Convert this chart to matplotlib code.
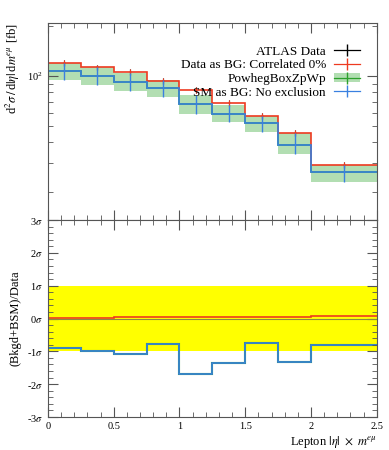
import numpy as np
import matplotlib
matplotlib.use('Agg')
import matplotlib.pyplot as plt
from matplotlib.lines import Line2D
from matplotlib.patches import Patch
from matplotlib.ticker import MultipleLocator, LogLocator, NullFormatter, FuncFormatter

plt.rcParams['font.family'] = ['Liberation Serif', 'DejaVu Serif']
plt.rcParams['mathtext.fontset'] = 'stix'

# Bin edges in |eta| x m
edges = [0, 0.25, 0.5, 0.75, 1.0, 1.25, 1.5, 1.75, 2.0, 2.5]

# ATLAS data (hidden below red) and errors
data = [121, 113, 105.7, 93.7, 82.3, 69.3, 57.3, 45.4, 29.1]
data_err = [5, 4.5, 4.5, 4, 3.5, 3, 2.5, 2, 1.3]

# Data as BG: Correlated 0%
red = [121, 113, 105.7, 93.7, 82.3, 69.3, 57.3, 45.4, 29.1]

# SM as BG / PowhegBoxZpWp central and band
blue = [108, 101, 92.4, 85, 67.7, 59.5, 52.5, 38.6, 26.3]
band_hi = [121, 113, 104, 95, 76.5, 67, 57.3, 45.4, 29.1]
band_lo = [94.5, 88, 81, 74.5, 59.5, 53, 46, 33.7, 22.8]

# Ratio panel (sigma)
red_sig = [0.02, 0.02, 0.05, 0.05, 0.05, 0.05, 0.06, 0.06, 0.07]
blue_sig = [-0.91, -0.99, -1.09, -0.78, -1.68, -1.35, -0.75, -1.32, -0.81]

c_red = '#ee3a20'
c_blue = '#3a80e0'
c_green = '#2ca02c'
c_band = '#b2deb2'

edges = np.array(edges)
centers = 0.5 * (edges[:-1] + edges[1:])

fig = plt.figure(figsize=(3.89, 4.5), dpi=100)
ax = fig.add_axes([0.1234, 0.511, 0.845, 0.438])
ax2 = fig.add_axes([0.1234, 0.0733, 0.845, 0.4377])

# Top panel
ax.stairs(band_hi, edges, baseline=band_lo, fill=True, color=c_band, lw=0)
ax.stairs(blue, edges, baseline=None, color=c_green, lw=1.2)
ax.errorbar(centers, data, yerr=data_err, fmt='none', ecolor='black', elinewidth=0.8)
ax.stairs(red, edges, baseline=None, color=c_red, lw=1.2)
ax.errorbar(centers, red, yerr=data_err, fmt='none', ecolor=c_red, elinewidth=0.8)
ax.stairs(blue, edges, baseline=None, color=c_blue, lw=1.2)
ax.errorbar(centers, blue, yerr=[np.array(blue) - np.array(band_lo), np.array(band_hi) - np.array(blue)],
            fmt='none', ecolor=c_blue, elinewidth=1.0)

ax.set_yscale('log')
ax.set_ylim(13.5, 210)
ax.set_xlim(0, 2.5)
ax.yaxis.set_major_locator(LogLocator(base=10, numticks=10))
ax.yaxis.set_minor_locator(LogLocator(base=10, subs=np.arange(2, 10), numticks=20))
ax.yaxis.set_minor_formatter(NullFormatter())
ax.xaxis.set_major_locator(MultipleLocator(0.5))
ax.xaxis.set_minor_locator(MultipleLocator(0.1))
ax.tick_params(axis='x', labelbottom=False)
ax.set_ylabel(r'd$^2\sigma\,/\,$d$|\eta|\,$d$m^{e\mu}$ [fb]', loc='top', fontsize=9)

handles = [
    Line2D([], [], color='black', marker='|', markersize=9, lw=0.9),
    Line2D([], [], color=c_red, marker='|', markersize=9, lw=0.9),
    (Patch(color=c_band, lw=0), Line2D([], [], color=c_green, marker='|', markersize=9, lw=0.9)),
    Line2D([], [], color=c_blue, marker='|', markersize=9, lw=0.9),
]
labels = ['ATLAS Data', 'Data as BG: Correlated 0%', 'PowhegBoxZpWp', 'SM as BG: No exclusion']
ax.legend(handles, labels, loc='upper right', bbox_to_anchor=(0.97, 0.92), frameon=False,
          markerfirst=False, fontsize=9.5, handlelength=2.0, handletextpad=0.6,
          labelspacing=0.12, borderpad=0)

# Bottom panel
ax2.axhspan(-1, 1, color='#ffff00', lw=0)
ax2.axhline(0, color='#8a8a40', lw=0.8)
ax2.stairs(red_sig, edges, baseline=None, color=c_red, lw=1.2)
ax2.stairs(blue_sig, edges, baseline=None, color=c_green, lw=1.5)
ax2.stairs(blue_sig, edges, baseline=None, color=c_blue, lw=1.2)
ax2.set_xlim(0, 2.5)
ax2.set_ylim(-3, 3)
ax2.yaxis.set_major_locator(MultipleLocator(1))
ax2.yaxis.set_minor_locator(MultipleLocator(0.2))
ax2.yaxis.set_major_formatter(FuncFormatter(lambda v, p: '%d$\\sigma$' % round(v)))
ax2.xaxis.set_major_locator(MultipleLocator(0.5))
ax2.xaxis.set_minor_locator(MultipleLocator(0.1))
ax2.xaxis.set_major_formatter(FuncFormatter(lambda v, p: ('%g' % v)))
ax2.set_ylabel('(Bkgd+BSM)/Data', fontsize=9)
ax2.set_xlabel(r'Lepton $|\eta|\ \times\ m^{e\mu}$', loc='right', fontsize=9, labelpad=2)

for a in (ax, ax2):
    for s in a.spines.values():
        s.set_color('#555555')
        s.set_linewidth(0.8)
    a.tick_params(which='both', direction='in', top=True, right=True, colors='#555555',
                  labelcolor='black', labelsize=7.5)
    a.tick_params(which='major', length=7)
    a.tick_params(which='minor', length=3.5)

fig.savefig('out.png', dpi=100)
